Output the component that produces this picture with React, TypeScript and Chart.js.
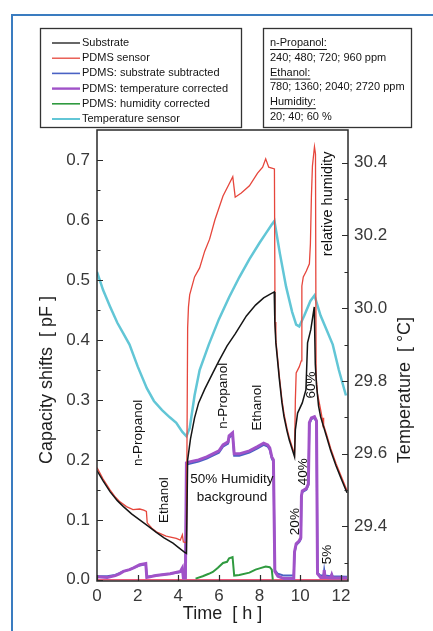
import React, { useEffect, useRef } from "react";
import { Chart, registerables } from "chart.js";
Chart.register(...registerables);

const FONT = "'Liberation Sans', Arial, Helvetica, sans-serif";

// ---------- data ----------
const seriesLabels = [
  "Substrate",
  "PDMS sensor",
  "PDMS: substrate subtracted",
  "PDMS: temperature corrected",
  "PDMS: humidity corrected",
  "Temperature sensor",
];

const substrate: [number, number][] = [
  [0, 0.182], [0.3, 0.165], [0.64, 0.147], [1.0, 0.132], [1.3, 0.122], [1.7, 0.11], [2.1, 0.1],
  [2.5, 0.09], [2.92, 0.079], [3.3, 0.07], [3.74, 0.061], [4.0, 0.054], [4.3, 0.046], [4.4, 0.044],
  [4.46, 0.2], [4.6, 0.235], [4.8, 0.27], [5.0, 0.295], [5.3, 0.318], [5.7, 0.345], [6.0, 0.365],
  [6.4, 0.39], [6.8, 0.41], [7.35, 0.44], [7.8, 0.458], [8.2, 0.47], [8.5, 0.476], [8.72, 0.48],
  [8.75, 0.43], [8.8, 0.395], [8.9, 0.36], [8.97, 0.335], [9.1, 0.295], [9.2, 0.272], [9.35, 0.248],
  [9.46, 0.233], [9.6, 0.218], [9.72, 0.205],
  [9.76, 0.25], [9.87, 0.278], [10.1, 0.295], [10.28, 0.317], [10.36, 0.395], [10.52, 0.417], [10.69, 0.455],
  [10.74, 0.36], [10.8, 0.325], [10.9, 0.29], [11.0, 0.272], [11.15, 0.255], [11.3, 0.238], [11.5, 0.215],
  [11.76, 0.19], [12.0, 0.17], [12.3, 0.145],
];

const pdmsSensor: [number, number][] = [
  [0, 0.187], [0.3, 0.168], [0.64, 0.15], [0.9, 0.138], [1.13, 0.13], [1.45, 0.122], [1.77, 0.117],
  [2.1, 0.118], [2.3, 0.116], [2.43, 0.114], [2.47, 0.095], [2.7, 0.086], [2.92, 0.08], [3.4, 0.073],
  [3.9, 0.069], [4.1, 0.066], [4.2, 0.075], [4.25, 0.063], [4.4, 0.062],
  [4.46, 0.42], [4.5, 0.455], [4.56, 0.475], [4.8, 0.505], [5.05, 0.52], [5.3, 0.548], [5.54, 0.568],
  [5.8, 0.6], [6.2, 0.64], [6.5, 0.66], [6.68, 0.672], [6.8, 0.638], [7.1, 0.645], [7.5, 0.657],
  [7.9, 0.678], [8.15, 0.688], [8.3, 0.702], [8.45, 0.688], [8.73, 0.685],
  [8.76, 0.43], [8.8, 0.4], [8.9, 0.365], [8.97, 0.34], [9.1, 0.3], [9.2, 0.277], [9.35, 0.252],
  [9.46, 0.237], [9.6, 0.222], [9.72, 0.21],
  [9.76, 0.3], [9.8, 0.345], [9.95, 0.355], [10.05, 0.365], [10.08, 0.49], [10.15, 0.505], [10.3, 0.515],
  [10.45, 0.527], [10.5, 0.56], [10.55, 0.64], [10.6, 0.69], [10.7, 0.722], [10.75, 0.71],
  [10.78, 0.34], [10.85, 0.31], [10.95, 0.293], [11.05, 0.275], [11.1, 0.262], [11.12, 0.27],
  [11.15, 0.258], [11.3, 0.242], [11.5, 0.219], [11.76, 0.194], [12.0, 0.174], [12.3, 0.149],
];

const substrateSubtracted: [number, number][] = [
  [0, 0.006], [0.5, 0.006], [0.9, 0.008], [1.1, 0.011], [1.3, 0.014], [1.6, 0.017], [1.8, 0.02],
  [2.1, 0.024], [2.4, 0.026], [2.45, 0.005], [2.9, 0.007], [3.3, 0.009], [3.6, 0.01], [4.1, 0.013],
  [4.2, 0.018], [4.25, 0.004], [4.35, 0.004],
  [4.4, 0.192], [4.6, 0.194], [5.0, 0.197], [5.4, 0.202], [5.7, 0.207], [6.0, 0.212], [6.2, 0.222],
  [6.45, 0.227], [6.5, 0.237], [6.67, 0.242], [6.75, 0.207], [7.0, 0.207], [7.5, 0.212], [7.9, 0.219],
  [8.2, 0.225], [8.4, 0.222], [8.5, 0.217], [8.6, 0.202], [8.68, 0.197],
  [8.75, 0.016], [8.9, 0.01], [9.2, 0.007], [9.68, 0.007],
  [9.72, 0.045], [9.8, 0.058], [9.95, 0.063], [10.03, 0.068], [10.06, 0.138], [10.1, 0.146],
  [10.3, 0.15], [10.4, 0.158], [10.45, 0.26], [10.55, 0.268], [10.7, 0.27], [10.8, 0.263],
  [10.85, 0.012], [11.0, 0.007], [11.15, 0.007], [11.18, 0.016], [11.22, 0.007], [11.5, 0.006],
  [11.55, 0.009], [11.6, 0.006], [12.3, 0.005],
];

const temperatureCorrected: [number, number][] = [
  [0, 0.005], [0.5, 0.004], [0.9, 0.007], [1.1, 0.01], [1.3, 0.014], [1.6, 0.017], [1.8, 0.02],
  [2.1, 0.025], [2.4, 0.027], [2.45, 0.004], [2.9, 0.007], [3.3, 0.009], [3.6, 0.01], [4.1, 0.014],
  [4.2, 0.02], [4.25, 0.003], [4.35, 0.003],
  [4.4, 0.195], [4.6, 0.197], [5.0, 0.2], [5.4, 0.205], [5.7, 0.21], [6.0, 0.215], [6.2, 0.225],
  [6.45, 0.23], [6.5, 0.24], [6.67, 0.245], [6.75, 0.21], [7.0, 0.21], [7.5, 0.215], [7.9, 0.222],
  [8.2, 0.228], [8.4, 0.225], [8.5, 0.22], [8.6, 0.205], [8.68, 0.2],
  [8.75, 0.014], [8.9, 0.006], [9.2, 0.002], [9.68, 0.002],
  [9.72, 0.047], [9.8, 0.06], [9.95, 0.065], [10.03, 0.07], [10.06, 0.14], [10.1, 0.148],
  [10.3, 0.152], [10.4, 0.16], [10.45, 0.262], [10.55, 0.27], [10.7, 0.272], [10.8, 0.265],
  [10.85, 0.01], [11.0, 0.004], [11.15, 0.004], [11.18, 0.016], [11.22, 0.004], [11.5, 0.003],
  [11.55, 0.008], [11.6, 0.003], [12.3, 0.003],
];

const humidityCorrected: [number, number][] = [
  [4.85, 0.002], [5.2, 0.006], [5.5, 0.01], [5.7, 0.013], [5.95, 0.02], [6.2, 0.028], [6.4, 0.03],
  [6.5, 0.036], [6.67, 0.038], [6.75, 0.007], [7.0, 0.008], [7.5, 0.012], [7.8, 0.017], [8.0, 0.019],
  [8.3, 0.022], [8.5, 0.021], [8.6, 0.017], [8.65, 0.0],
];

const temperatureSensor: [number, number][] = [
  [0, 30.1], [0.3, 30.05], [0.64, 30.005], [1.0, 29.96], [1.3, 29.93], [1.6, 29.9], [2.0, 29.84],
  [2.45, 29.78], [2.8, 29.745], [3.2, 29.72], [3.58, 29.7], [3.9, 29.685], [4.2, 29.66], [4.4, 29.648],
  [4.56, 29.67], [4.8, 29.76], [5.05, 29.83], [5.5, 29.9], [6.0, 29.97], [6.5, 30.03], [7.0, 30.085],
  [7.5, 30.135], [8.0, 30.18], [8.3, 30.205], [8.6, 30.23], [8.73, 30.24],
  [9.0, 30.15], [9.3, 30.06], [9.6, 29.99], [9.8, 29.955], [9.95, 29.95], [10.2, 29.98], [10.5, 30.02],
  [10.7, 30.035], [11.0, 29.98], [11.3, 29.94], [11.6, 29.9], [11.9, 29.83], [12.25, 29.76],
];

const zeroLine: [number, number][] = [[0, 0], [12.35, 0]];

const xTicks = [0, 2, 4, 6, 8, 10, 12];
const yTicks = [0, 0.1, 0.2, 0.3, 0.4, 0.5, 0.6, 0.7];
const yMinorTicks = [0.05, 0.15, 0.25, 0.35, 0.45, 0.55, 0.65];
const tempTicks = [29.4, 29.6, 29.8, 30.0, 30.2, 30.4];
const tempMinorTicks = [29.3, 29.5, 29.7, 29.9, 30.1, 30.3];

const infoLines: [string, boolean][] = [
  ["n-Propanol:", true],
  ["240; 480; 720; 960 ppm", false],
  ["Ethanol:", true],
  ["780; 1360; 2040; 2720 ppm", false],
  ["Humidity:", true],
  ["20; 40; 60 %", false],
];

// text, time, value (left axis), rotated
const notes: [string, number, number, boolean][] = [
  ["n-Propanol", 2.02, 0.245, true],
  ["Ethanol", 3.3, 0.133, true],
  ["n-Propanol", 6.2, 0.307, true],
  ["Ethanol", 7.87, 0.287, true],
  ["50% Humidity", 6.64, 0.167, false],
  ["background", 6.64, 0.138, false],
  ["relative humidity", 11.36, 0.627, true],
  ["60%", 10.53, 0.325, true],
  ["40%", 10.13, 0.18, true],
  ["20%", 9.74, 0.097, true],
  ["5%", 11.31, 0.042, true],
];

const colors = ["#151515", "#e6463c", "#4a62c4", "#a052c8", "#2f9a3f", "#62c6d6"];
const widths = [1.5, 1.3, 2, 3, 2, 2.5];
// drawing order: lower value is painted on top
const drawOrder = [0, 1, 3, 2, 4, 5];

const toXY = (arr: [number, number][]) => arr.map(([x, y]) => ({ x, y }));

const overlay = {
  id: "overlay",
  beforeDraw(chart: any) {
    const ctx = chart.ctx;
    ctx.save();
    ctx.fillStyle = "#ffffff";
    ctx.fillRect(0, 0, chart.width, chart.height);
    ctx.strokeStyle = "#3a7cc0";
    ctx.lineWidth = 2;
    ctx.beginPath();
    ctx.moveTo(12, chart.height);
    ctx.lineTo(12, 15);
    ctx.lineTo(chart.width, 15);
    ctx.stroke();
    ctx.restore();
  },
  afterDraw(chart: any) {
    const ctx = chart.ctx;
    const { left, right, top, bottom } = chart.chartArea;
    const xs = chart.scales.x;
    const ys = chart.scales.y;
    const ts = chart.scales.y1;
    ctx.save();
    // frame
    ctx.strokeStyle = "#2a2a2a";
    ctx.lineWidth = 1.5;
    ctx.strokeRect(left, top, right - left, bottom - top);
    ctx.lineWidth = 1.2;
    ctx.beginPath();
    xTicks.forEach((v) => {
      const p = Math.round(xs.getPixelForValue(v)) + 0.5;
      ctx.moveTo(p, bottom);
      ctx.lineTo(p, bottom - 6);
    });
    yTicks.forEach((v) => {
      const p = Math.round(ys.getPixelForValue(v)) + 0.5;
      ctx.moveTo(left, p);
      ctx.lineTo(left + 6, p);
    });
    yMinorTicks.forEach((v) => {
      const p = Math.round(ys.getPixelForValue(v)) + 0.5;
      ctx.moveTo(left, p);
      ctx.lineTo(left + 3.5, p);
    });
    tempTicks.forEach((v) => {
      const p = Math.round(ts.getPixelForValue(v)) + 0.5;
      ctx.moveTo(right, p);
      ctx.lineTo(right - 6, p);
    });
    tempMinorTicks.forEach((v) => {
      const p = Math.round(ts.getPixelForValue(v)) + 0.5;
      ctx.moveTo(right, p);
      ctx.lineTo(right - 3.5, p);
    });
    ctx.stroke();

    // axis titles
    ctx.fillStyle = "#1e1e1e";
    ctx.font = `18px ${FONT}`;
    ctx.textAlign = "center";
    ctx.textBaseline = "middle";
    ctx.fillText("Time  [ h ]", (left + right) / 2, bottom + 33);
    ctx.save();
    ctx.translate(left - 50, 380);
    ctx.rotate(-Math.PI / 2);
    ctx.fillText("Capacity shifts  [ pF ]", 0, 0);
    ctx.restore();
    ctx.save();
    ctx.translate(right + 57, 390);
    ctx.rotate(-Math.PI / 2);
    ctx.fillText("Temperature  [ °C]", 0, 0);
    ctx.restore();

    // annotations
    ctx.fillStyle = "#111";
    notes.forEach(([text, t, v, rot]) => {
      const px = xs.getPixelForValue(t);
      const py = ys.getPixelForValue(v);
      ctx.font = `${text === "relative humidity" ? 14.5 : 13.5}px ${FONT}`;
      ctx.save();
      ctx.translate(px, py);
      if (rot) ctx.rotate(-Math.PI / 2);
      ctx.fillText(text, 0, 0);
      ctx.restore();
    });

    // legend box
    ctx.strokeStyle = "#333";
    ctx.lineWidth = 1.3;
    ctx.strokeRect(40.5, 28.5, 201, 99);
    ctx.strokeRect(263.5, 28.5, 148, 99);
    ctx.font = `11px ${FONT}`;
    ctx.textAlign = "left";
    ctx.textBaseline = "middle";
    chart.data.datasets.slice(0, seriesLabels.length).forEach((ds: any, i: number) => {
      const y = 43 + 15.2 * i;
      ctx.strokeStyle = ds.borderColor;
      ctx.lineWidth = Math.max(1.3, ds.borderWidth * 0.8);
      ctx.beginPath();
      ctx.moveTo(52, y);
      ctx.lineTo(80, y);
      ctx.stroke();
      ctx.fillStyle = "#141414";
      ctx.fillText(ds.label, 82, y);
    });
    infoLines.forEach(([text, under], i) => {
      const y = 43 + 14.8 * i;
      ctx.fillStyle = "#141414";
      ctx.fillText(text, 270, y);
      if (under) {
        const w = ctx.measureText(text).width;
        ctx.strokeStyle = "#141414";
        ctx.lineWidth = 1;
        ctx.beginPath();
        ctx.moveTo(270, y + 6.5);
        ctx.lineTo(270 + w, y + 6.5);
        ctx.stroke();
      }
    });
    ctx.restore();
  },
};

export default function App() {
  const ref = useRef<HTMLCanvasElement | null>(null);
  useEffect(() => {
    if (!ref.current) return;
    const seriesData = [
      substrate,
      pdmsSensor,
      substrateSubtracted,
      temperatureCorrected,
      humidityCorrected,
      temperatureSensor,
    ];
    const datasets: any[] = seriesData.map((d, i) => ({
      label: seriesLabels[i],
      data: toXY(d),
      borderColor: colors[i],
      backgroundColor: colors[i],
      borderWidth: widths[i],
      pointRadius: 0,
      tension: 0,
      fill: false,
      order: drawOrder[i],
      yAxisID: i === 5 ? "y1" : "y",
    }));
    datasets.push({
      label: "",
      data: toXY(zeroLine),
      borderColor: "#ec5a7c",
      borderWidth: 1.5,
      pointRadius: 0,
      fill: false,
      order: 9,
      yAxisID: "y",
    });
    const tickFont = { family: FONT, size: 17 };
    const chart = new Chart(ref.current, {
      type: "line",
      data: { datasets },
      options: {
        responsive: false,
        animation: false,
        devicePixelRatio: 1,
        layout: { padding: { top: 130, left: 0, right: 0, bottom: 0 } },
        plugins: { legend: { display: false }, tooltip: { enabled: false }, title: { display: false } },
        scales: {
          x: {
            type: "linear",
            min: 0,
            max: 12.35,
            grid: { display: false, drawTicks: false },
            border: { display: false },
            afterBuildTicks: (s: any) => { s.ticks = xTicks.map((value) => ({ value })); },
            afterFit: (s: any) => { s.height = 50; },
            ticks: { font: tickFont, color: "#383838", padding: 5, maxRotation: 0, callback: (v: any) => String(v) },
          },
          y: {
            type: "linear",
            position: "left",
            min: -0.002,
            max: 0.75,
            grid: { display: false, drawTicks: false },
            border: { display: false },
            afterBuildTicks: (s: any) => { s.ticks = yTicks.map((value) => ({ value })); },
            afterFit: (s: any) => { s.width = 97; },
            ticks: { font: tickFont, color: "#383838", padding: 7, callback: (v: any) => Number(v).toFixed(1) },
          },
          y1: {
            type: "linear",
            position: "right",
            min: 29.25,
            max: 30.49,
            grid: { display: false, drawTicks: false },
            border: { display: false },
            afterBuildTicks: (s: any) => { s.ticks = tempTicks.map((value) => ({ value })); },
            afterFit: (s: any) => { s.width = 85; },
            ticks: { font: tickFont, color: "#383838", padding: 6, callback: (v: any) => Number(v).toFixed(1) },
          },
        },
      } as any,
      plugins: [overlay],
    });
    return () => chart.destroy();
  }, []);
  return (
    <div style={{ position: "fixed", left: 0, top: 0, width: 433, height: 631, background: "#fff" }}>
      <canvas ref={ref} width={433} height={631} style={{ width: 433, height: 631, display: "block" }} />
    </div>
  );
}
